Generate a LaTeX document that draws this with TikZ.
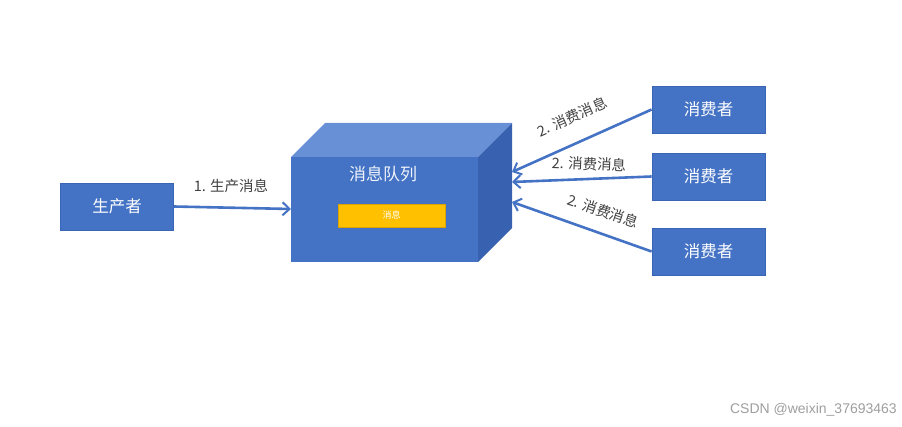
\documentclass[tikz,border=0pt]{standalone}
\usepackage{fontspec}
\newfontfamily\cjk{Noto Sans CJK SC}
\setsansfont{Liberation Sans}
\usetikzlibrary{arrows.meta}
\definecolor{boxblue}{HTML}{4472C4}
\definecolor{topblue}{HTML}{6790D6}
\definecolor{sideblue}{HTML}{3862B0}
\definecolor{edgeblue}{HTML}{3A64B4}
\definecolor{barorange}{HTML}{FFC000}
\definecolor{labelgray}{HTML}{404040}
\begin{document}
\begin{tikzpicture}[x=1pt,y=-1pt,
  actor/.style={draw=edgeblue,line width=0.8pt,fill=boxblue,minimum width=113pt,minimum height=47pt,inner sep=0pt,text=white,font=\cjk\fontsize{16.5}{18}\selectfont},
  flow/.style={draw=boxblue,line width=2.6pt,-{Straight Barb[length=7pt,width=13pt,line width=2pt]}},
  lbl/.style={text=labelgray,font=\cjk\fontsize{14.5}{16}\selectfont,inner sep=0pt}]
\useasboundingbox (0,0) rectangle (902,427);
% producer
\node[actor] (prod) at (117,206.5) {生产者};
% cube
\fill[topblue] (291,157) -- (325,123) -- (512,123) -- (478,157) -- cycle;
\fill[sideblue] (478,157) -- (512,123) -- (512,228) -- (478,262) -- cycle;
\node[fill=boxblue,minimum width=187pt,minimum height=105pt,inner sep=0pt] (queue) at (384.5,209.5) {};
\node[text=white!92!boxblue,font=\cjk\fontsize{17}{19}\selectfont] (qtitle) at (383,174) {消息队列};
\node[fill=barorange,draw=barorange!85!black,line width=0.5pt,minimum width=107pt,minimum height=23pt,inner sep=0pt,text=white,font=\cjk\fontsize{9}{10}\selectfont] (msg) at (391.5,215.5) {消息};
% consumers
\node[actor] (c1) at (708.5,109.5) {消费者};
\node[actor] (c2) at (708.5,176.5) {消费者};
\node[actor] (c3) at (708.5,251.5) {消费者};
% anchor points on the cube's right face
\coordinate (t1) at (512,172);
\coordinate (t2) at (512,182);
\coordinate (t3) at (512,202);
\coordinate (pin) at (291,209);
% connectors
\draw[flow] (prod.east) -- (pin);
\draw[flow] (c1.west) -- (t1);
\draw[flow] (c2.west) -- (t2);
\draw[flow] (c3.west) -- (t3);
% labels
\node[lbl] (l0) at (231,186) {1. 生产消息};
\node[lbl,rotate=24] (l1) at (572,117) {2. 消费消息};
\node[lbl,rotate=-2] (l2) at (589,164) {2. 消费消息};
\node[lbl,rotate=-19] (l3) at (603,211) {2. 消费消息};
% watermark
\node[text=black!38,font=\fontsize{14}{16}\selectfont\sffamily,anchor=east,inner sep=0pt] (wm) at (897,410) {CSDN @weixin\_37693463};
\end{tikzpicture}
\end{document}
